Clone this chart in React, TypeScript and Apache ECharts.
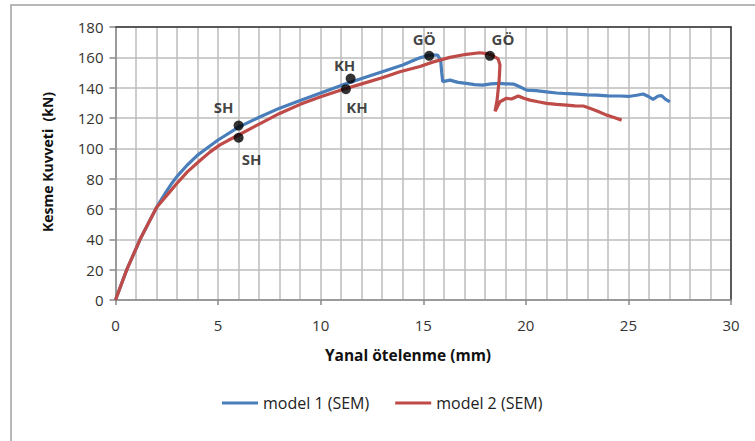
import React, { useEffect, useRef } from "react";
import * as echarts from "echarts";

const model1Name = "model 1 (SEM)";
const model2Name = "model 2 (SEM)";

const model1: [number, number][] = [
  [0, 0], [0.55, 20], [1.2, 40], [2.0, 61], [2.2, 65.5], [2.5, 72], [2.75, 77], [3.0, 81.5],
  [3.5, 89], [4.0, 95.5], [4.5, 100.5], [5.0, 105.5], [6.0, 114], [7.0, 120.5], [8.0, 126.5],
  [9.0, 131.5], [10.0, 136.5], [11.0, 141.5], [12.0, 146], [13.0, 150.5], [14.0, 155],
  [14.8, 159.5], [15.3, 161.5], [15.7, 161.5], [15.85, 158], [15.9, 150], [15.95, 144],
  [16.3, 145], [16.7, 143.5], [17.1, 142.8], [17.5, 142], [17.9, 141.7], [18.3, 142.5],
  [18.74, 142.8], [19.0, 142.5], [19.4, 142.4], [19.7, 140.6], [20.04, 138.4], [20.5, 138],
  [21.0, 137.2], [21.5, 136.5], [21.82, 136.2], [22.5, 135.8], [23.0, 135.3], [23.45, 135.1],
  [24.0, 134.6], [24.59, 134.5], [25.0, 134.2], [25.4, 135], [25.72, 135.8], [26.0, 134],
  [26.2, 132.3], [26.45, 134.5], [26.62, 134.8], [26.8, 132.5], [27.02, 130.7],
];

const model2: [number, number][] = [
  [0, 0], [0.55, 20], [1.2, 40], [2.0, 61], [2.5, 69], [3.0, 77], [3.5, 84.5], [4.12, 92],
  [4.6, 97.5], [5.09, 102.3], [5.5, 105.3], [6.0, 108.8], [7.0, 116], [8.0, 123], [9.0, 129],
  [10.0, 134], [11.0, 138.4], [12.0, 142.5], [13.0, 146.5], [13.86, 150.5], [14.84, 154],
  [15.49, 157], [16.3, 160], [17.1, 162], [17.76, 163], [18.1, 162.5], [18.4, 161],
  [18.65, 159], [18.74, 155], [18.7, 145], [18.6, 132], [18.5, 124.5], [18.6, 127],
  [18.74, 130.7], [19.06, 133], [19.3, 132.5], [19.63, 134.5], [19.9, 133], [20.2, 131.8],
  [20.6, 130.7], [21.01, 129.6], [21.5, 129], [21.99, 128.5], [22.4, 128], [22.8, 127.9],
  [23.12, 126.4], [23.5, 124.5], [23.94, 121.9], [24.3, 120.3], [24.67, 118.6],
];

// Marked points: [x, y, label]
const model1Points: [number, number, string][] = [
  [6.0, 115, "SH"], [11.46, 146, "KH"], [15.29, 161, "GÖ"],
];
const model2Points: [number, number, string][] = [
  [6.0, 107, "SH"], [11.23, 139, "KH"], [18.25, 161, "GÖ"],
];

const xTitle = "Yanal ötelenme (mm)";
const yTitle = "Kesme Kuvveti  (kN)";

const xMin = 0;
const xMax = 30;
const yMin = 0;
const yMax = 180;

const FONT = "'Open Sans', 'Noto Sans', sans-serif";
const BLUE = "#4a7ebb";
const RED = "#be4b48";
const GRID = "#bdbdbd";

export default function App() {
  const ref = useRef<HTMLDivElement>(null);
  useEffect(() => {
    if (!ref.current) return;
    const chart = echarts.init(ref.current, null, { renderer: "svg" });
    const labelOffsets1: Record<string, [number, number]> = { SH: [-15, -19], KH: [-6, -14], "GÖ": [-5, -17] };
    const labelOffsets2: Record<string, [number, number]> = { SH: [13, 21], KH: [11, 18], "GÖ": [13, -17] };
    const pointData = (pts: [number, number, string][], offs: Record<string, [number, number]>) =>
      pts.map((p) => ({
        value: [p[0], p[1]],
        name: p[2],
        label: {
          show: true,
          position: "inside",
          offset: offs[p[2]],
          formatter: p[2],
          fontFamily: FONT,
          fontWeight: "bold",
          fontSize: 15,
          color: "#111",
        },
      }));
    chart.setOption({
      animation: false,
      backgroundColor: "#fff",
      textStyle: { fontFamily: FONT },
      grid: {
        left: 115.5,
        right: 24,
        top: 27,
        bottom: 141,
        show: false,
      },
      legend: {
        left: 217,
        top: 390,
        icon: "rect",
        itemWidth: 36,
        itemHeight: 3,
        itemGap: 26,
        data: [model1Name, model2Name],
        textStyle: { fontFamily: FONT, fontSize: 16, color: "#222" },
      },
      xAxis: [
        {
          type: "value",
          min: xMin,
          max: xMax,
          interval: 5,
          axisLine: { show: true, onZero: false, lineStyle: { color: "#888", width: 1.5 } },
          axisTick: { show: true, length: 5, lineStyle: { color: "#888", width: 1.5 } },
          minorTick: { show: true, splitNumber: 5, length: 0.01, lineStyle: { color: "#fff", width: 0 } },
          axisLabel: { fontSize: 15, color: "#333", margin: 17, fontFamily: FONT },
          splitLine: { show: true, lineStyle: { color: GRID, width: 1.5 } },
          minorSplitLine: { show: true, lineStyle: { color: GRID, width: 1.5 } },
        },
        {
          type: "value",
          min: xMin,
          max: xMax,
          position: "top",
          axisLine: { show: true, onZero: false, lineStyle: { color: "#333", width: 1.5 } },
          axisTick: { show: false },
          axisLabel: { show: false },
          splitLine: { show: false },
        },
      ],
      yAxis: [
        {
          type: "value",
          min: yMin,
          max: yMax,
          interval: 20,
          axisLine: { show: true, lineStyle: { color: "#888", width: 1.5 } },
          axisTick: { show: true, length: 6, lineStyle: { color: "#888", width: 1.5 } },
          axisLabel: { fontSize: 15, color: "#333", margin: 12, fontFamily: FONT },
          splitLine: { show: true, lineStyle: { color: GRID, width: 1.5 } },
        },
        {
          type: "value",
          min: yMin,
          max: yMax,
          position: "right",
          axisLine: { show: true, onZero: false, lineStyle: { color: "#333", width: 1.5 } },
          axisTick: { show: false },
          axisLabel: { show: false },
          splitLine: { show: false },
        },
      ],
      graphic: [
        {
          type: "rect",
          z: 0,
          shape: { x: 11, y: 5, width: 900, height: 600 },
          style: { fill: "none", stroke: "#a0a0a0", lineWidth: 1.5 },
          silent: true,
        },
        {
          type: "text",
          x: 408,
          y: 355,
          style: {
            text: xTitle,
            fontSize: 15.5,
            fontWeight: "bold",
            fontFamily: FONT,
            fill: "#111",
            align: "center",
            verticalAlign: "middle",
          },
        },
        {
          type: "text",
          x: 47,
          y: 162,
          rotation: Math.PI / 2,
          style: {
            text: yTitle,
            fontSize: 14,
            fontWeight: "bold",
            fontFamily: FONT,
            fill: "#111",
            align: "center",
            verticalAlign: "middle",
          },
        },
      ],
      series: [
        {
          name: model1Name,
          type: "line",
          data: model1,
          showSymbol: false,
          symbol: "none",
          smooth: false,
          lineStyle: { color: BLUE, width: 3.2 },
          itemStyle: { color: BLUE },
          z: 3,
        },
        {
          name: model2Name,
          type: "line",
          data: model2,
          showSymbol: false,
          symbol: "none",
          smooth: false,
          lineStyle: { color: RED, width: 3.2 },
          itemStyle: { color: RED },
          z: 4,
        },
        {
          name: "p1",
          type: "scatter",
          data: pointData(model1Points, labelOffsets1),
          symbolSize: 10,
          itemStyle: { color: "#000" },
          z: 5,
        },
        {
          name: "p2",
          type: "scatter",
          data: pointData(model2Points, labelOffsets2),
          symbolSize: 10,
          itemStyle: { color: "#000" },
          z: 5,
        },
      ],
    });
    return () => chart.dispose();
  }, []);
  return (
    <div
      ref={ref}
      style={{ position: "fixed", left: 0, top: 0, width: 755, height: 441, background: "#fff" }}
    />
  );
}
